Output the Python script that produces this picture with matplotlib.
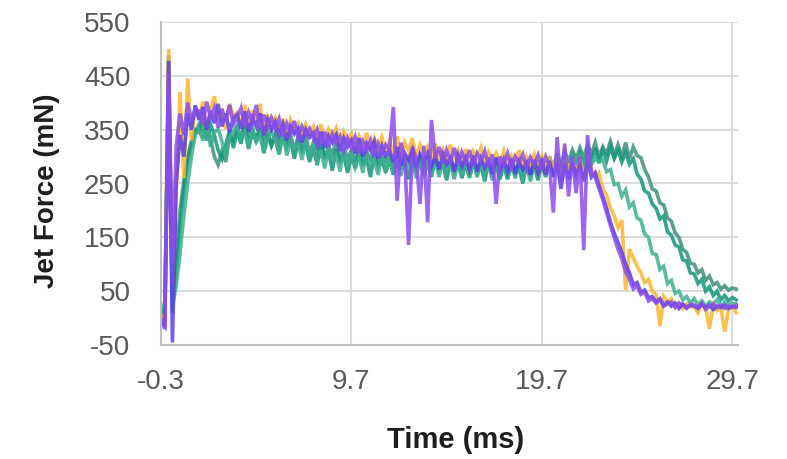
import numpy as np
import matplotlib
matplotlib.use("Agg")
import matplotlib.pyplot as plt

# sample times (ms): one reading every 0.2 ms from -0.3 ms
TIME = np.arange(152) * 0.2 - 0.3

# jet force readings (mN), one row = 2 ms
RUN_GRAYGREEN = [
    10, 20, 488, 10, 110, 200, 255, 300, 330, 345,
    360, 340, 365, 335, 300, 285, 310, 290, 340, 330,
    358, 330, 366, 338, 352, 326, 360, 334, 348, 322,
    344, 318, 348, 322, 340, 312, 336, 318, 340, 306,
    326, 300, 332, 296, 320, 304, 328, 290, 318, 296,
    312, 290, 318, 284, 308, 296, 314, 280, 305, 292,
    302, 282, 310, 276, 298, 288, 306, 272, 300, 284,
    296, 270, 302, 280, 294, 266, 298, 278, 290, 272,
    292, 268, 296, 276, 288, 264, 294, 272, 298, 270,
    290, 268, 300, 274, 292, 262, 296, 276, 288, 270,
    294, 272, 300, 278, 306, 284, 310, 290, 312, 296,
    316, 298, 322, 304, 326, 300, 318, 306, 328, 302,
    322, 300, 326, 296, 318, 302, 298, 276, 262, 240,
    236, 214, 210, 186, 180, 158, 150, 128, 122, 102,
    100, 84, 90, 70, 78, 62, 66, 54, 60, 52,
    56, 54,
]
RUN_GREEN = [
    20, 0, 470, 30, 80, 170, 240, 290, 320, 350,
    345, 372, 330, 360, 340, 312, 296, 322, 348, 316,
    348, 324, 358, 316, 344, 330, 354, 308, 340, 320,
    336, 304, 342, 316, 332, 296, 328, 310, 322, 290,
    316, 284, 322, 298, 308, 274, 314, 292, 302, 270,
    302, 278, 312, 286, 296, 262, 304, 282, 294, 270,
    296, 266, 300, 280, 290, 258, 298, 276, 292, 264,
    290, 262, 298, 274, 286, 256, 294, 270, 288, 260,
    286, 262, 292, 270, 284, 254, 290, 268, 282, 258,
    284, 258, 290, 266, 280, 250, 288, 264, 284, 256,
    288, 262, 294, 270, 290, 266, 298, 276, 300, 280,
    304, 282, 310, 290, 316, 288, 312, 292, 318, 296,
    312, 290, 308, 286, 296, 268, 258, 236, 232, 212,
    204, 184, 190, 160, 154, 136, 132, 108, 106, 84,
    82, 64, 72, 50, 58, 42, 50, 34, 42, 32,
    38, 34,
]
RUN_TEAL = [
    15, 30, 440, 20, 60, 120, 190, 250, 300, 340,
    350, 330, 366, 318, 344, 352, 328, 300, 336, 346,
    358, 334, 346, 314, 354, 328, 340, 306, 332, 346,
    332, 306, 344, 302, 334, 316, 324, 294, 330, 304,
    320, 288, 312, 278, 318, 298, 304, 272, 312, 284,
    306, 280, 300, 270, 310, 286, 294, 266, 300, 276,
    298, 272, 296, 264, 300, 280, 290, 260, 296, 272,
    290, 264, 294, 262, 296, 270, 286, 258, 292, 268,
    288, 260, 292, 262, 290, 266, 284, 256, 290, 264,
    286, 258, 288, 260, 292, 262, 282, 254, 286, 262,
    290, 264, 292, 266, 294, 270, 296, 274, 298, 280,
    300, 282, 306, 286, 296, 290, 294, 272, 276, 248,
    250, 226, 238, 206, 214, 186, 182, 156, 150, 120,
    118, 90, 96, 64, 70, 46, 50, 34, 40, 28,
    36, 24, 32, 22, 30, 26, 34, 20, 30, 24,
    28, 26,
]
RUN_YELLOW = [
    5, -8, 500, 60, 230, 420, 260, 445, 330, 395,
    370, 402, 352, 388, 412, 366, 390, 352, 398, 375,
    382, 358, 396, 352, 386, 364, 398, 342, 374, 360,
    372, 346, 370, 334, 368, 350, 362, 336, 360, 344,
    356, 330, 360, 326, 350, 334, 352, 320, 346, 330,
    342, 318, 338, 322, 344, 310, 334, 316, 336, 312,
    330, 304, 338, 300, 326, 310, 334, 298, 322, 306,
    318, 296, 324, 300, 314, 292, 322, 298, 312, 290,
    314, 288, 310, 296, 316, 286, 308, 292, 306, 288,
    310, 284, 302, 290, 312, 280, 300, 286, 304, 278,
    300, 274, 296, 282, 292, 252, 296, 278, 290, 272,
    292, 268, 286, 278, 262, 270, 240, 228, 205, 190,
    168, 182, 52, 128, 112, 96, 84, 66, 72, 50,
    44, -15, 40, 30, 36, 22, 28, 18, 26, 20,
    22, 10, 26, 18, -20, 24, 14, 20, -25, 16,
    22, 10,
]
RUN_BLUE = [
    -5, -15, 478, -45, 250, 340, 300, 380, 350, 395,
    368, 392, 350, 384, 362, 398, 356, 380, 346, 372,
    378, 352, 384, 346, 372, 356, 380, 340, 368, 350,
    364, 340, 360, 330, 356, 342, 352, 326, 350, 336,
    344, 322, 346, 316, 338, 326, 340, 310, 334, 318,
    330, 306, 334, 300, 324, 312, 328, 296, 320, 302,
    312, 290, 318, 284, 306, 294, 312, 280, 304, 290,
    306, 282, 300, 276, 304, 286, 298, 272, 302, 282,
    298, 276, 302, 272, 296, 280, 292, 268, 298, 274,
    294, 272, 296, 268, 290, 276, 288, 266, 294, 270,
    290, 266, 292, 262, 288, 240, 284, 258, 290, 264,
    286, 254, 292, 262, 270, 246, 226, 204, 178, 158,
    140, 122, 100, 84, 62, 66, 48, 52, 38, 40,
    30, 36, 24, 30, 22, 28, 18, 26, 20, 24,
    22, 18, 26, 20, 24, 16, 22, 20, 24, 18,
    22, 20,
]
RUN_VIOLET = [
    0, -20, 460, 100, 320, 380, 340, 400, 366, 388,
    384, 360, 402, 372, 390, 354, 388, 366, 396, 360,
    372, 390, 356, 382, 364, 396, 350, 378, 356, 372,
    352, 370, 338, 362, 344, 366, 336, 356, 342, 352,
    334, 350, 322, 346, 318, 342, 326, 338, 312, 334,
    316, 336, 306, 328, 312, 330, 300, 324, 306, 322,
    312, 392, 218, 326, 300, 136, 318, 296, 212, 320,
    178, 368, 296, 318, 288, 312, 292, 316, 286, 308,
    290, 312, 284, 306, 292, 310, 282, 304, 212, 300,
    286, 306, 280, 300, 288, 304, 278, 298, 284, 302,
    276, 300, 284, 196, 336, 250, 324, 226, 300, 232,
    300, 126, 340, 270, 262, 240, 220, 196, 172, 150,
    128, 110, 86, 72, 54, 60, 44, 48, 32, 36,
    28, 34, 22, 26, 30, 20, 28, 24, 18, 26,
    24, 20, 28, 16, 22, 26, 20, 24, 18, 22,
    20, 24,
]

RUNS = [RUN_GRAYGREEN, RUN_GREEN, RUN_TEAL, RUN_YELLOW, RUN_BLUE, RUN_VIOLET]
COLORS = ["#3e8e7b", "#13967a", "#3eb091", "#fdb42f", "#5a3fe6", "#8a4deb"]

X_TICKS = [-0.3, 9.7, 19.7, 29.7]
Y_TICKS = [-50, 50, 150, 250, 350, 450, 550]

for r in RUNS:
    assert len(r) == len(TIME), len(r)

plt.rcParams["font.family"] = ["Liberation Sans", "DejaVu Sans"]
plt.rcParams["axes.unicode_minus"] = False

fig = plt.figure(figsize=(7.87, 4.59), dpi=100)
ax = fig.add_axes([161 / 787, 114 / 459, 577 / 787, 323 / 459])

for vals, col in zip(RUNS, COLORS):
    ax.plot(TIME, vals, color=col, lw=2.6, alpha=0.85, solid_joinstyle="miter")

ax.set_xlim(-0.3, 30.0)
ax.set_ylim(-50, 550)
ax.set_xticks(X_TICKS)
ax.set_xticklabels([f"{v:.1f}" for v in X_TICKS])
ax.set_yticks(Y_TICKS)
ax.grid(True, color="#d9d9d9", lw=1.3)
ax.set_axisbelow(True)
for s in ("top", "right"):
    ax.spines[s].set_visible(False)
for s in ("left", "bottom"):
    ax.spines[s].set_color("#bfbfbf")
    ax.spines[s].set_linewidth(1.5)
ax.tick_params(length=0, labelsize=20, labelcolor="#595959")
ax.tick_params(axis="y", pad=22)
ax.tick_params(axis="x", pad=17)

ax.set_xlabel("Time (ms)", fontsize=21, fontweight="bold", color="#1e1e1e", va="center")
ax.xaxis.set_label_coords(0.51, -0.294)
ax.set_ylabel("Jet Force (mN)", fontsize=20, fontweight="bold", color="#1e1e1e", va="center")
ax.yaxis.set_label_coords(-0.198, 0.477)

fig.savefig("out.png", dpi=100, facecolor="white")
